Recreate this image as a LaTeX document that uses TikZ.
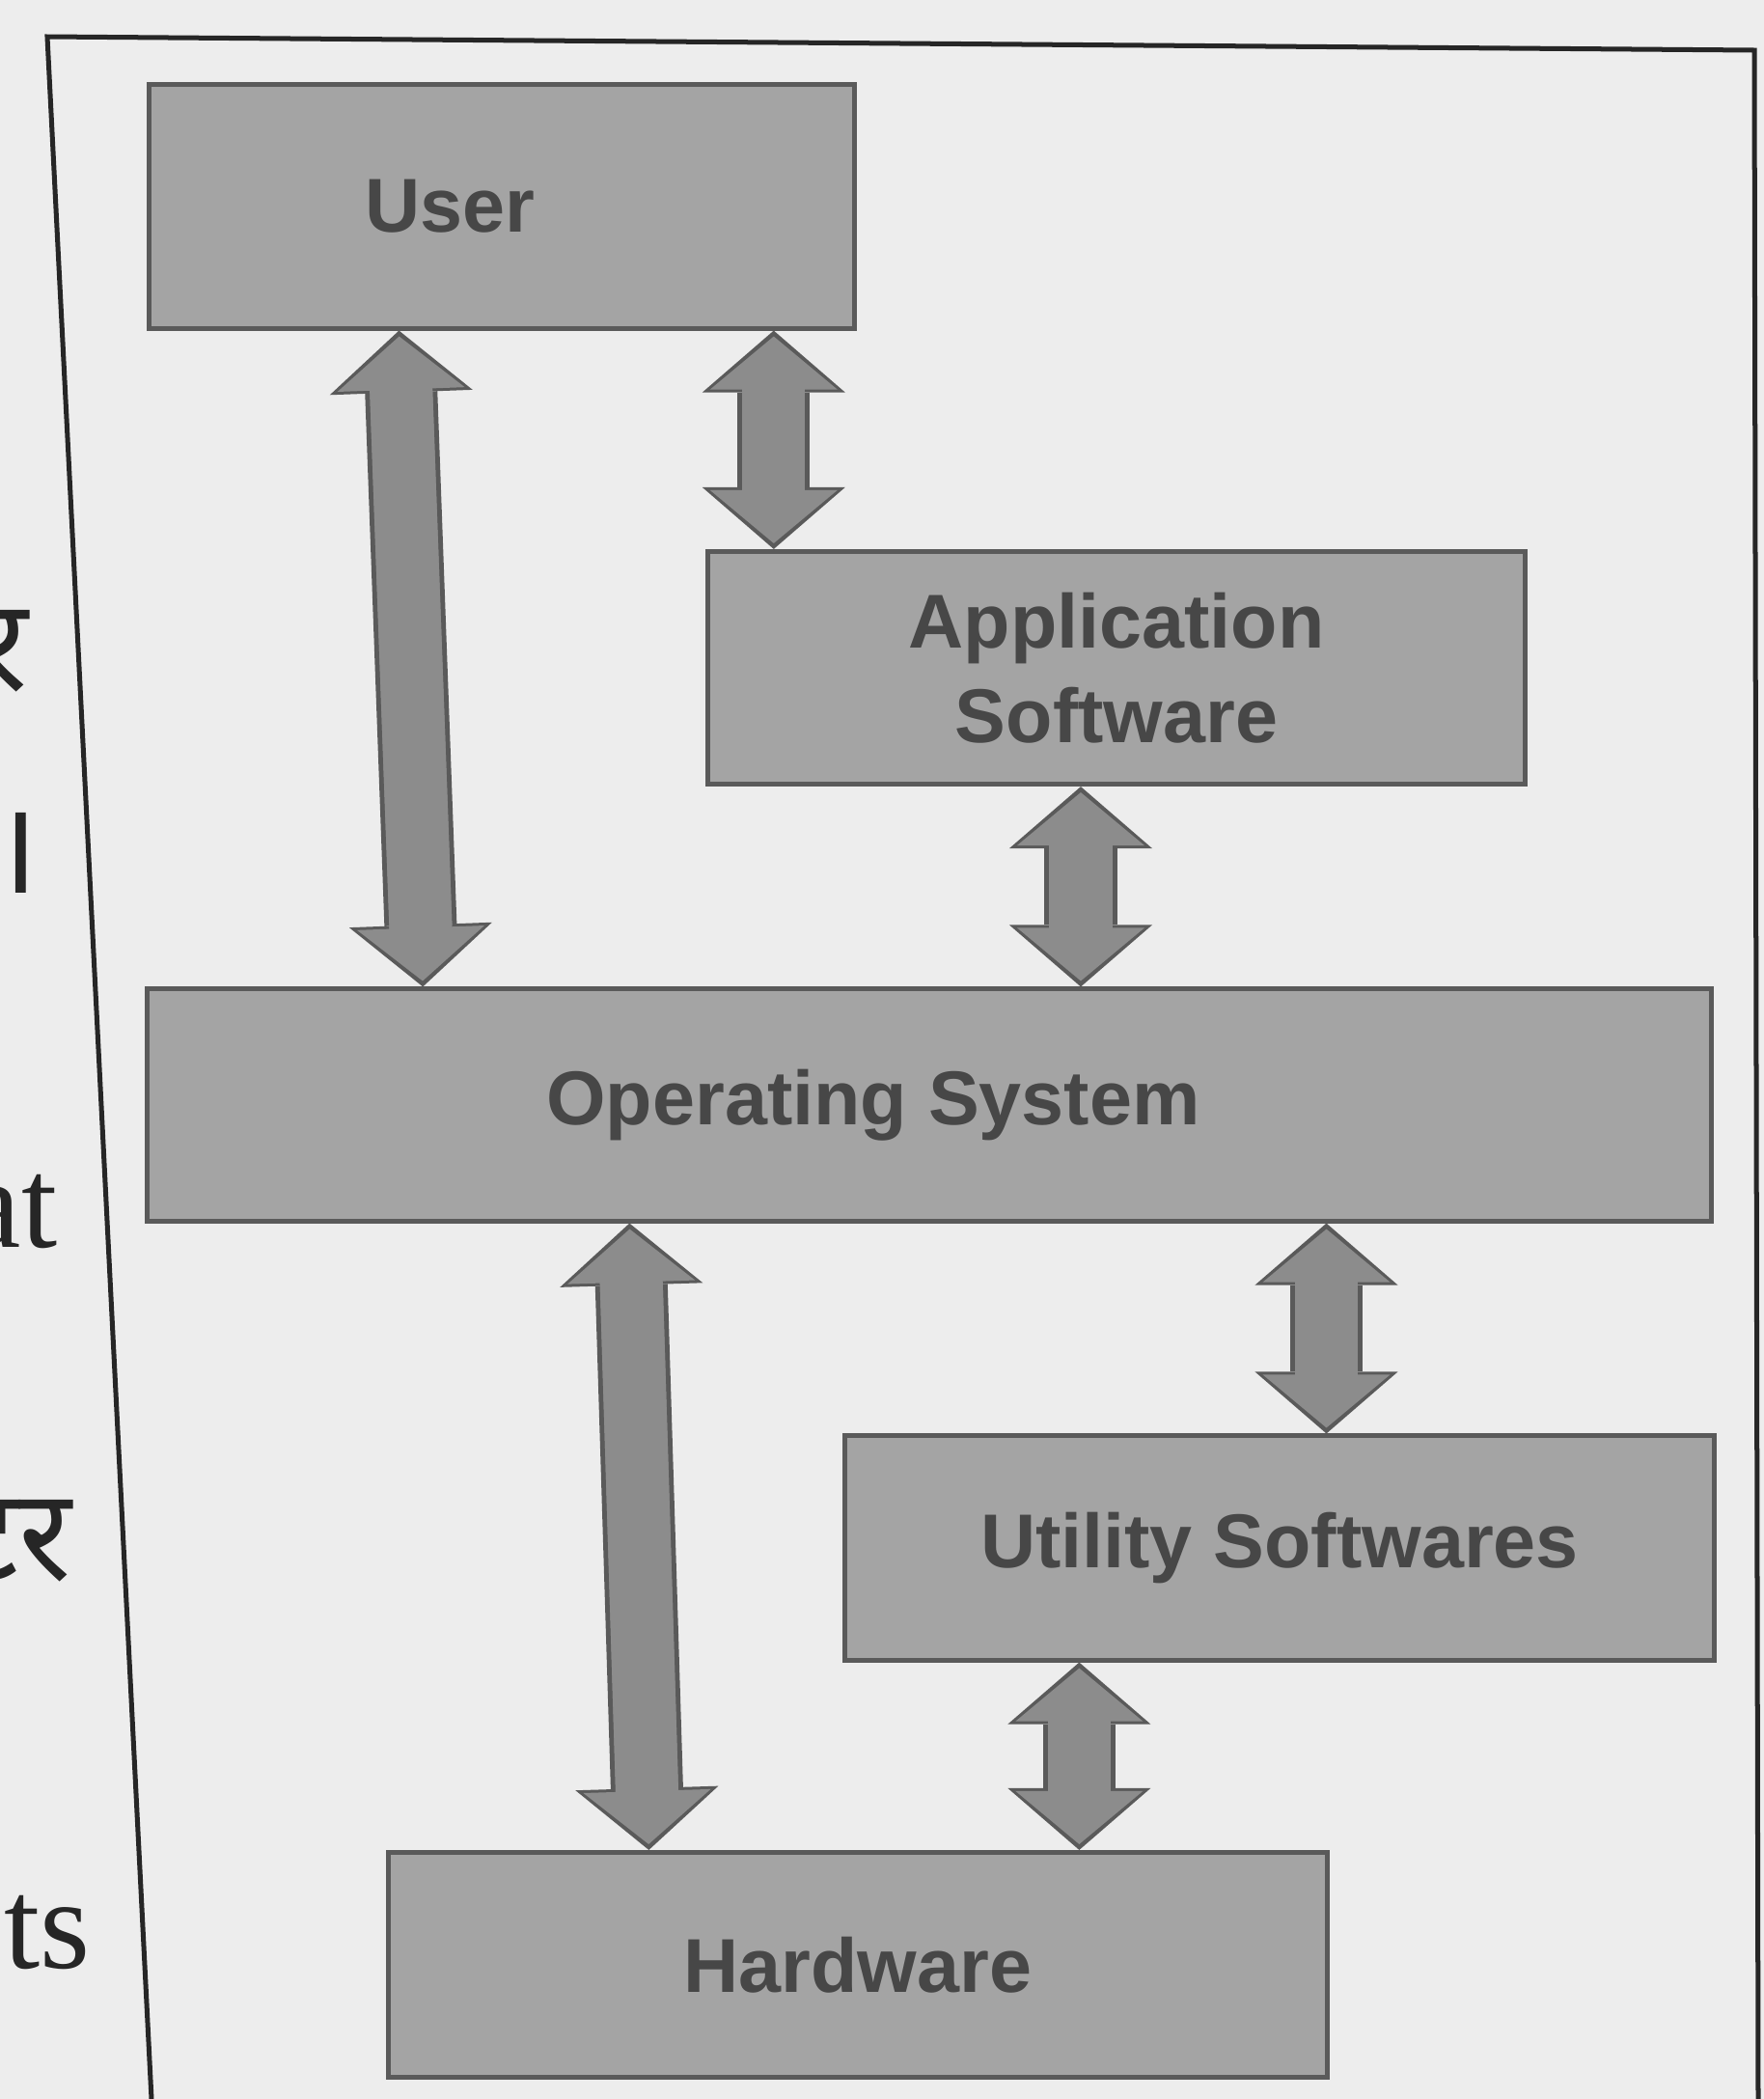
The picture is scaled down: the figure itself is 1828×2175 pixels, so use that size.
\documentclass[tikz,border=0pt]{standalone}
\usepackage{fontspec}
\setmainfont{Liberation Serif}
\newfontfamily\boxfont{Liberation Sans}
\newfontfamily\devfont[Script=Devanagari]{Noto Sans}
\usetikzlibrary{arrows.meta}
\definecolor{paper}{HTML}{EDEDED}
\definecolor{boxfill}{HTML}{A4A4A4}
\definecolor{boxline}{HTML}{5A5A5A}
\definecolor{arrowfill}{HTML}{8C8C8C}
\definecolor{labeltext}{HTML}{474747}
\tikzstyle{block}=[draw=boxline, fill=boxfill, line width=0.05cm, inner sep=0pt, align=center, text=labeltext, font=\boxfont\bfseries\fontsize{22.5}{28}\selectfont]
\tikzstyle{twoway}=[draw=arrowfill, line width=0.65cm, shorten <=0.06cm, shorten >=0.06cm,
  {Triangle[width=1.32cm,length=0.55cm,line width=0pt]}-{Triangle[width=1.32cm,length=0.55cm,line width=0pt]},
  preaction={draw=boxline, line width=0.75cm, shorten <=0cm, shorten >=0cm,
  {Triangle[width=1.48cm,length=0.64cm,line width=0pt]}-{Triangle[width=1.48cm,length=0.64cm,line width=0pt]}},
  postaction={draw=arrowfill, line width=0.65cm, shorten <=0.5cm, shorten >=0.5cm, -}]
\tikzstyle{margin}=[inner sep=0pt, text=black!85, font=\fontsize{38}{40}\selectfont]

\begin{document}
\begin{tikzpicture}[x=0.01cm, y=-0.01cm]
\fill[paper] (0,0) rectangle (1828,2175);
\useasboundingbox (0,0) rectangle (1828,2175);
% page text cut off at the left
\node[margin, anchor=base east] (m1) at (30,715) {\devfont र};
\node[margin, anchor=base east] (m2) at (42,925) {\devfont ।};
\node[margin, anchor=base east] (m3) at (60,1292) {at};
\node[margin, anchor=base east] (m4) at (75,1637) {\devfont टर};
\node[margin, anchor=base east] (m5) at (94,2039) {ets};
\draw[line width=0.05cm, black!85] (157,2175) -- (49,38) -- (1818,52) -- (1822,2175);
\node[block, minimum width=7.3cm, minimum height=2.52cm] at (520,214) (user) {\hspace*{-1.08cm}User};
\node[block, minimum width=8.47cm, minimum height=2.41cm] at (1157,692) (app) {Application\\Software};
\node[block, minimum width=16.2cm, minimum height=2.4cm] at (963,1145) (os) {\hspace*{-1.16cm}Operating System};
\node[block, minimum width=9cm, minimum height=2.32cm] at (1326,1604) (util) {Utility Softwares};
\node[block, minimum width=9.72cm, minimum height=2.33cm] at (889,2036) (hw) {Hardware};
\coordinate (ua) at ([xshift=0.71cm]app.north west);
\coordinate (ao) at ([xshift=3.89cm]app.south west);
\coordinate (ou) at ([xshift=5.01cm]util.north west);
\coordinate (uh) at ([xshift=2.45cm]util.south west);
\draw[twoway] ([xshift=2.61cm]user.south west) -- ([xshift=2.88cm]os.north west);
\draw[twoway] (ua |- user.south) -- (ua);
\draw[twoway] (ao) -- (ao |- os.north);
\draw[twoway] ([xshift=5.02cm]os.south west) -- ([xshift=2.72cm]hw.north west);
\draw[twoway] (ou |- os.south) -- (ou);
\draw[twoway] (uh) -- (uh |- hw.north);
\end{tikzpicture}
\end{document}
